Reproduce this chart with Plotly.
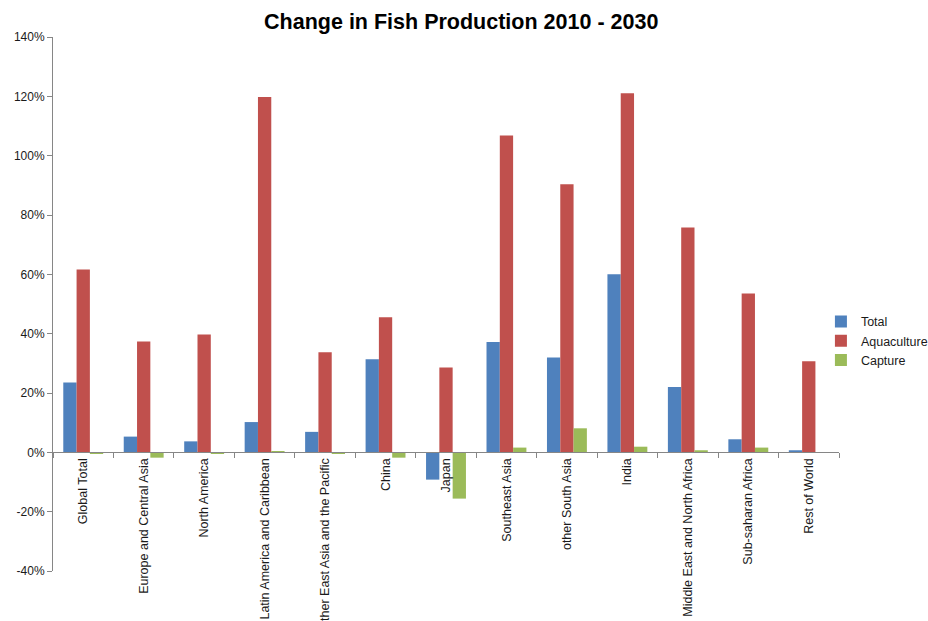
import plotly.graph_objects as go

categories = ["Global Total", "Europe and Central Asia", "North America",
              "Latin America and Caribbean", "Other East Asia and the Pacific",
              "China", "Japan", "Southeast Asia", "other South Asia", "India",
              "Middle East and North Africa", "Sub-saharan Africa", "Rest of World"]
total = [23.5, 5.3, 3.7, 10.2, 6.9, 31.4, -9.2, 37.2, 32.0, 60.0, 22.0, 4.4, 0.7]
aquaculture = [61.6, 37.4, 39.7, 119.8, 33.7, 45.5, 28.6, 106.8, 90.4, 121.0, 75.8, 53.5, 30.7]
capture = [-0.3, -1.8, -0.3, 0.3, -0.3, -1.8, -15.6, 1.6, 8.1, 1.9, 0.7, 1.6, 0.1]
y_ticks = [-40, -20, 0, 20, 40, 60, 80, 100, 120, 140]
y_tick_labels = [f"{v}%" for v in y_ticks]

FONT = "Liberation Sans, Arial, sans-serif"

fig = go.Figure()
for name, vals, col in [("Total", total, "#4F81BD"),
                        ("Aquaculture", aquaculture, "#C0504D"),
                        ("Capture", capture, "#9BBB59")]:
    fig.add_trace(go.Bar(x=categories, y=vals, name=name,
                         marker=dict(color=col, line=dict(width=0))))

ymin, ymax = -40, 140
zero_pos = (0 - ymin) / (ymax - ymin)

fig.update_layout(
    template="none",
    width=928, height=621,
    margin=dict(l=53, r=89, t=37, b=50, autoexpand=False),
    paper_bgcolor="white", plot_bgcolor="white",
    barmode="group", bargap=0.34, bargroupgap=0,
    title=dict(text="<b>Change in Fish Production 2010 - 2030</b>",
               x=0.497, xanchor="center", y=0.965, yanchor="middle",
               font=dict(family=FONT, size=21.5, color="#000000")),
    font=dict(family=FONT, size=12, color="#1a1a1a"),
    legend=dict(x=0.977, xanchor="left", y=0.431, yanchor="middle",
                font=dict(family=FONT, size=12.5, color="#1a1a1a"),
                itemwidth=30, tracegroupgap=0, bgcolor="rgba(0,0,0,0)"),
    showlegend=True,
    xaxis=dict(type="category", anchor="free", position=zero_pos,
               showline=True, linecolor="#868686", linewidth=1,
               ticks="outside", tickson="boundaries", ticklen=5,
               tickcolor="#868686", tickangle=-90, showgrid=False,
               zeroline=False, automargin=False,
               tickfont=dict(family=FONT, size=12.5, color="#1a1a1a")),
    yaxis=dict(range=[ymin, ymax], tickvals=y_ticks, ticktext=y_tick_labels,
               showline=True, linecolor="#868686", linewidth=1,
               ticks="outside", ticklen=5, tickcolor="#868686",
               showgrid=False, zeroline=False, automargin=False,
               tickfont=dict(family=FONT, size=12, color="#1a1a1a")),
)

fig.write_html("out.html")
